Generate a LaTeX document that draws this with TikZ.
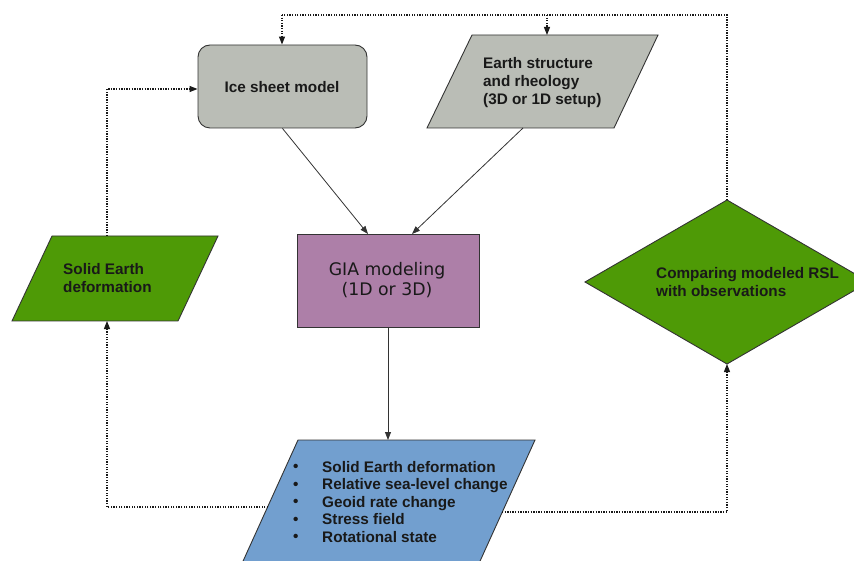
\documentclass[tikz,border=0pt]{standalone}
\usepackage{fontspec}
\setmainfont{Liberation Sans}
\newfontfamily\giafont{DejaVu Sans}
\usetikzlibrary{arrows.meta,calc}
\definecolor{boxgray}{HTML}{BABDB6}
\definecolor{boxgreen}{HTML}{4E9A06}
\definecolor{boxpurple}{HTML}{AD7FA8}
\definecolor{boxblue}{HTML}{729FCF}
\definecolor{edge}{HTML}{333333}
\newcommand{\bul}{\makebox[29pt][l]{\raisebox{0.5pt}{•}}}
\tikzset{
  shapeline/.style={draw=edge, line width=0.9pt},
  lbl/.style={font=\bfseries\fontsize{15.3}{18}\selectfont, align=left, inner sep=0pt, text=black!90},
  conn/.style={draw=black!80, line width=0.8pt, -{Triangle[length=8pt,width=6pt]}},
  dotconn/.style={draw=black!90, line width=1.1pt, dash pattern=on 1.3pt off 1.3pt, -{Triangle[length=8pt,width=6pt]}},
  dotline/.style={draw=black!90, line width=1.1pt, dash pattern=on 1.3pt off 1.3pt}
}
\begin{document}
\begin{tikzpicture}[x=1pt,y=-1pt]
\useasboundingbox (0,0) rectangle (854,561);

% Ice sheet model
\node[shapeline, fill=boxgray, rounded corners=12pt, minimum width=169pt, minimum height=83pt, inner sep=0pt] (ice) at (282.5,86.5) {};
\node[lbl] (icetxt) at (282,87) {Ice sheet model};

% Earth structure
\path[shapeline, fill=boxgray] (472,35) -- (658,35) -- (614,128) -- (427,128) -- cycle;
\node[lbl, anchor=west] (earth) at (483,83) {Earth structure\\and rheology\\(3D or 1D setup)};
\coordinate (earth-n) at (547,35);
\coordinate (earth-s) at (523,128);

% Solid Earth deformation
\path[shapeline, fill=boxgreen] (52,236) -- (218,236) -- (178,321) -- (12,321) -- cycle;
\node[lbl, anchor=west] (solid) at (63,278) {Solid Earth\\deformation};
\coordinate (solid-n) at (107,236);
\coordinate (solid-s) at (107,321);

% GIA modeling
\node[shapeline, fill=boxpurple, minimum width=182pt, minimum height=93pt, inner sep=0pt] (gia) at (388,280.5) {};
\node[font=\giafont\fontsize{17.3}{20}\selectfont, align=center, inner sep=0pt, text=black!90] (giatxt) at (387,280) {GIA modeling\\(1D or 3D)};
\coordinate (gia-in1) at (368,234);
\coordinate (gia-in2) at (412,234);

% Comparing (diamond)
\path[shapeline, fill=boxgreen] (727,200) -- (869,282) -- (727,364) -- (585,282) -- cycle;
\node[lbl, anchor=west] (comp) at (656,282) {Comparing modeled RSL\\with observations};
\coordinate (comp-n) at (727,200);
\coordinate (comp-s) at (727,364);

% Output parallelogram
\path[shapeline, fill=boxblue] (298,440) -- (535,440) -- (476,570) -- (239,570) -- cycle;
\node[lbl, anchor=north west, font=\bfseries\fontsize{15.3}{17.5}\selectfont] (out) at (293,461)
  {\bul Solid Earth deformation\\
   \bul Relative sea-level change\\
   \bul Geoid rate change\\
   \bul Stress field\\
   \bul Rotational state};
\coordinate (out-n) at (388,440);
\coordinate (out-w) at (268,507);
\coordinate (out-e) at (502,512);

% solid connectors
\draw[conn] (ice.south) -- (gia-in1);
\draw[conn] (earth-s) -- (gia-in2);
\draw[conn] (gia.south) -- (out-n);

% dotted feedback connectors
\coordinate (ice-w) at (ice.west |- 0,89);
\draw[dotconn] (solid-n) |- (ice-w);
\draw[dotconn] (out-w) -| (solid-s);
\draw[dotconn] (out-e) -| (comp-s);
\coordinate (topright) at (727,15);
\coordinate (topleft) at (282,15);
\coordinate (topmid) at (547,15);
\draw[dotline] (comp-n) -- (topright) -- (topleft);
\draw[dotconn] (topleft) -- (topleft |- ice.north);
\draw[dotconn] (topmid) -- (earth-n);
\end{tikzpicture}
\end{document}
